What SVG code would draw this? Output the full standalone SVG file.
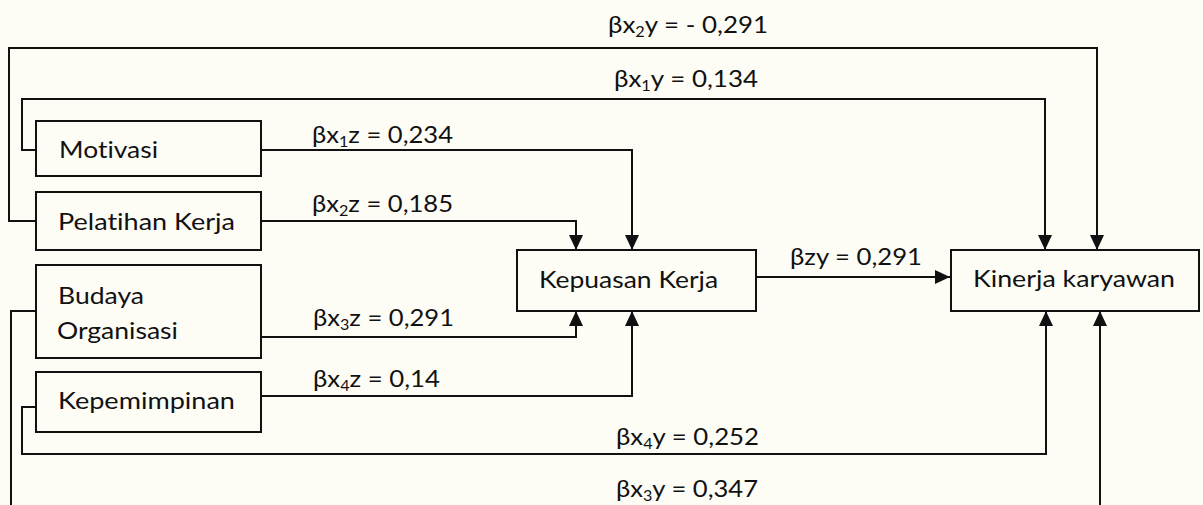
<svg xmlns="http://www.w3.org/2000/svg" width="1203" height="505" viewBox="0 0 1203 505">
<style>
.box{fill:none;stroke:#111;stroke-width:2}
.ln{fill:none;stroke:#111;stroke-width:2}
.t{font-family:Lato,"Open Sans","Liberation Sans",sans-serif;font-size:23px;fill:#111;font-variant-ligatures:none;font-feature-settings:"liga" 0}
.s{font-size:14.5px}
</style>
<defs>
<marker id="ah" markerUnits="userSpaceOnUse" viewBox="0 0 15 14" refX="15" refY="7" markerWidth="15" markerHeight="14" orient="auto">
<path d="M0,0 L15,7 L0,14 z" fill="#111"/>
</marker>
</defs>
<rect x="0" y="0" width="1203" height="505" fill="#fdfdf6"/>
<g id="connectors">
<path class="ln" d="M36,221 H9 V48 H1097 V250" marker-end="url(#ah)"/>
<path class="ln" d="M36,150 H22 V99 H1045 V250" marker-end="url(#ah)"/>
<path class="ln" d="M261,150 H632 V250" marker-end="url(#ah)"/>
<path class="ln" d="M261,221 H576 V250" marker-end="url(#ah)"/>
<path class="ln" d="M261,337 H576 V311" marker-end="url(#ah)"/>
<path class="ln" d="M261,396 H632 V311" marker-end="url(#ah)"/>
<path class="ln" d="M756,277 H950" marker-end="url(#ah)"/>
<path class="ln" d="M36,407 H22 V454 H1046 V311" marker-end="url(#ah)"/>
<path class="ln" d="M36,311 H11 V505"/>
<path class="ln" d="M1100,505 V311" marker-end="url(#ah)"/>
<text class="t" transform="translate(608,33) scale(1.15,1)" textLength="139.1" lengthAdjust="spacingAndGlyphs">βx<tspan class="s" dy="4">2</tspan><tspan dy="-4">y = - 0,291</tspan></text>
<text class="t" transform="translate(614,87) scale(1.15,1)" textLength="125.2" lengthAdjust="spacingAndGlyphs">βx<tspan class="s" dy="4">1</tspan><tspan dy="-4">y = 0,134</tspan></text>
<text class="t" transform="translate(312,143) scale(1.15,1)" textLength="122.6" lengthAdjust="spacingAndGlyphs">βx<tspan class="s" dy="4">1</tspan><tspan dy="-4">z = 0,234</tspan></text>
<text class="t" transform="translate(312,212) scale(1.15,1)" textLength="122.6" lengthAdjust="spacingAndGlyphs">βx<tspan class="s" dy="4">2</tspan><tspan dy="-4">z = 0,185</tspan></text>
<text class="t" transform="translate(313,326) scale(1.15,1)" textLength="122.6" lengthAdjust="spacingAndGlyphs">βx<tspan class="s" dy="4">3</tspan><tspan dy="-4">z = 0,291</tspan></text>
<text class="t" transform="translate(313,387) scale(1.15,1)" textLength="110.4" lengthAdjust="spacingAndGlyphs">βx<tspan class="s" dy="4">4</tspan><tspan dy="-4">z = 0,14</tspan></text>
<text class="t" transform="translate(790,265) scale(1.15,1)" textLength="114.8" lengthAdjust="spacingAndGlyphs">βzy = 0,291</text>
<text class="t" transform="translate(616,445) scale(1.15,1)" textLength="124.3" lengthAdjust="spacingAndGlyphs">βx<tspan class="s" dy="4">4</tspan><tspan dy="-4">y = 0,252</tspan></text>
<text class="t" transform="translate(616,497) scale(1.15,1)" textLength="123.5" lengthAdjust="spacingAndGlyphs">βx<tspan class="s" dy="4">3</tspan><tspan dy="-4">y = 0,347</tspan></text>
</g>
<g id="motivasi">
<rect class="box" x="36" y="121" width="225" height="55"/>
<text class="t" transform="translate(59,158) scale(1.15,1)" textLength="86.1" lengthAdjust="spacingAndGlyphs">Motivasi</text>
</g>
<g id="pelatihan">
<rect class="box" x="36" y="192" width="225" height="58"/>
<text class="t" transform="translate(58,230) scale(1.15,1)" textLength="153.9" lengthAdjust="spacingAndGlyphs">Pelatihan Kerja</text>
</g>
<g id="budaya">
<rect class="box" x="36" y="265" width="225" height="93"/>
<text class="t" transform="translate(58,304) scale(1.15,1)" textLength="74.8" lengthAdjust="spacingAndGlyphs">Budaya</text>
<text class="t" transform="translate(57,339) scale(1.15,1)" textLength="105.2" lengthAdjust="spacingAndGlyphs">Organisasi</text>
</g>
<g id="kepemimpinan">
<rect class="box" x="36" y="372" width="225" height="60"/>
<text class="t" transform="translate(58,409) scale(1.15,1)" textLength="153.9" lengthAdjust="spacingAndGlyphs">Kepemimpinan</text>
</g>
<g id="kepuasan">
<rect class="box" x="517" y="250" width="239" height="61"/>
<text class="t" transform="translate(539,288) scale(1.15,1)" textLength="155.7" lengthAdjust="spacingAndGlyphs">Kepuasan Kerja</text>
</g>
<g id="kinerja">
<rect class="box" x="951" y="250" width="248" height="61"/>
<text class="t" transform="translate(973,287) scale(1.15,1)" textLength="175.7" lengthAdjust="spacingAndGlyphs">Kinerja karyawan</text>
</g>
</svg>
